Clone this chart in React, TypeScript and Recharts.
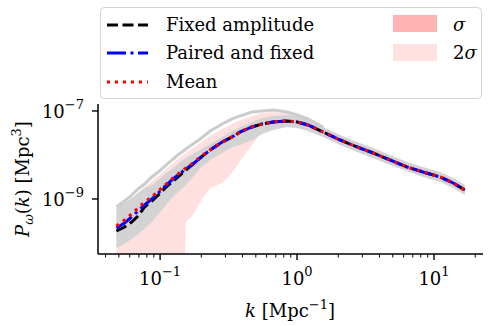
import React from "react";
import { ComposedChart, Area, Line, XAxis, YAxis } from "recharts";

// wavenumber k [1/Mpc]
const kValues = [
  0.048, 0.055, 0.062, 0.069, 0.077, 0.087, 0.097, 0.109, 0.122, 0.138, 0.151,
  0.154, 0.174, 0.196, 0.232, 0.284, 0.336, 0.384, 0.469, 0.555, 0.668, 0.845,
  1.0, 1.2, 1.55, 2.06, 2.74, 3.59, 4.77, 6.35, 8.31, 11.1, 13.8, 16.8,
];

// mean of the realisations
const meanPk = [
  2.43e-10, 3.33e-10, 4.56e-10, 6.24e-10, 8.55e-10, 1.11e-9, 1.52e-9, 2.08e-9,
  2.85e-9, 3.9e-9, 4.81e-9, 5.07e-9, 6.58e-9, 9.0e-9, 1.3e-8, 1.97e-8, 2.57e-8,
  3.33e-8, 4.33e-8, 5.07e-8, 5.62e-8, 5.93e-8, 5.62e-8, 4.81e-8, 3.33e-8,
  2.19e-8, 1.52e-8, 1.11e-8, 7.7e-9, 5.34e-9, 4.11e-9, 3.16e-9, 2.31e-9, 1.6e-9,
];

const pairedPk = [
  2.19e-10, 2.85e-10, 3.9e-10, 5.34e-10, 7.31e-10, 1.0e-9, 1.37e-9, 1.97e-9,
  2.7e-9, 3.7e-9, 4.56e-9, 4.81e-9, 6.24e-9, 8.55e-9, 1.3e-8, 1.97e-8, 2.57e-8,
  3.33e-8, 4.33e-8, 5.07e-8, 5.62e-8, 5.93e-8, 5.62e-8, 4.81e-8, 3.33e-8,
  2.19e-8, 1.52e-8, 1.11e-8, 7.7e-9, 5.34e-9, 4.11e-9, 3.16e-9, 2.31e-9, 1.6e-9,
];

const fixedPk = [
  1.87e-10, 2.31e-10, 3.0e-10, 4.11e-10, 6.58e-10, 9.0e-10, 1.23e-9, 1.78e-9,
  2.43e-9, 3.33e-9, 4.33e-9, 4.56e-9, 6.24e-9, 8.55e-9, 1.3e-8, 1.97e-8, 2.57e-8,
  3.33e-8, 4.33e-8, 5.07e-8, 5.62e-8, 5.93e-8, 5.62e-8, 4.81e-8, 3.33e-8,
  2.19e-8, 1.52e-8, 1.11e-8, 7.7e-9, 5.34e-9, 4.11e-9, 3.16e-9, 2.31e-9, 1.6e-9,
];

// envelope of the individual realisations (grey)
const grayHigh = [
  6.24e-10, 8.11e-10, 1.05e-9, 1.37e-9, 1.78e-9, 2.08e-9, 2.7e-9, 3.7e-9,
  4.81e-9, 6.58e-9, 8.11e-9, 8.55e-9, 1.05e-8, 1.3e-8, 1.78e-8, 2.57e-8, 3.51e-8,
  4.33e-8, 5.62e-8, 6.93e-8, 7.7e-8, 8.11e-8, 7.7e-8, 6.58e-8, 4.33e-8, 2.85e-8,
  1.97e-8, 1.44e-8, 1.0e-8, 6.93e-9, 5.34e-9, 4.11e-9, 3.0e-9, 2.08e-9,
];
const grayLow = [
  7.7e-11, 9.49e-11, 1.23e-10, 1.6e-10, 2.08e-10, 3.0e-10, 4.56e-10, 6.93e-10,
  1.05e-9, 1.52e-9, 1.97e-9, 2.08e-9, 3.16e-9, 5.07e-9, 7.7e-9, 1.11e-8, 1.52e-8,
  1.69e-8, 2.19e-8, 3.0e-8, 3.7e-8, 4.33e-8, 4.11e-8, 3.51e-8, 2.57e-8, 1.69e-8,
  1.17e-8, 8.55e-9, 5.93e-9, 4.33e-9, 3.16e-9, 2.43e-9, 1.78e-9, 1.23e-9,
];
// one high realisation
const outlierPk = [
  6.58e-10, 9.0e-10, 1.23e-9, 1.69e-9, 2.19e-9, 3.16e-9, 4.11e-9, 5.62e-9,
  7.7e-9, 1.05e-8, 1.3e-8, 1.37e-8, 1.78e-8, 2.31e-8, 3.51e-8, 5.07e-8, 6.58e-8,
  7.7e-8, 9.49e-8, 1.0e-7, 1.05e-7, 9.49e-8, 8.11e-8, 6.58e-8, 4.33e-8,
  null, null, null, null, null, null, null, null, null,
];

// 1 sigma and 2 sigma bands
const sigmaHigh = [
  3.0e-10, 4.11e-10, 5.62e-10, 7.7e-10, 1.05e-9, 1.37e-9, 1.87e-9, 2.57e-9,
  3.51e-9, 4.81e-9, 5.93e-9, 6.24e-9, 8.11e-9, 1.11e-8, 1.6e-8, 2.43e-8, 3.16e-8,
  4.11e-8, 5.34e-8, 6.24e-8, 6.93e-8, 7.31e-8, 6.93e-8, 5.93e-8, 4.11e-8, 2.7e-8,
  1.87e-8, 1.37e-8, 9.49e-9, 6.58e-9, 5.07e-9, 3.9e-9, 2.85e-9, 1.97e-9,
];
const sigmaLow = [
  1.6e-10, 2.19e-10, 3.0e-10, 4.11e-10, 5.62e-10, 7.31e-10, 1.0e-9, 1.37e-9,
  1.87e-9, 2.57e-9, 3.16e-9, 3.33e-9, 4.56e-9, 6.24e-9, 9.49e-9, 1.44e-8, 1.87e-8,
  2.43e-8, 3.33e-8, 3.9e-8, 4.56e-8, 4.81e-8, 4.56e-8, 3.9e-8, 2.7e-8, 1.78e-8,
  1.23e-8, 9.0e-9, 6.24e-9, 4.33e-9, 3.33e-9, 2.57e-9, 1.87e-9, 1.3e-9,
];
const sigma2High = [
  5.62e-10, 7.31e-10, 1.0e-9, 1.37e-9, 1.87e-9, 2.57e-9, 3.33e-9, 4.56e-9,
  6.24e-9, 8.55e-9, 1.05e-8, 1.11e-8, 1.44e-8, 1.87e-8, 2.7e-8, 3.9e-8, 5.07e-8,
  6.24e-8, 7.7e-8, 9.0e-8, 9.49e-8, 9.0e-8, 8.11e-8, 6.24e-8, 4.11e-8, 2.7e-8,
  1.87e-8, 1.37e-8, 9.49e-9, 6.58e-9, 5.07e-9, 3.9e-9, 2.85e-9, 1.97e-9,
];
// lower 2 sigma edge goes negative (off the log axis) below k ~ 0.15
const sigma2Low = [
  1e-11, 1e-11, 1e-11, 1e-11, 1e-11, 1e-11, 1e-11, 1e-11, 1e-11, 1e-11, 1e-11,
  3.0e-10, 4.33e-10, 8.55e-10, 1.78e-9, 2.31e-9, 3.9e-9, 7.31e-9, 1.69e-8,
  3.33e-8, 4.33e-8, 4.81e-8, 4.56e-8, 3.9e-8, 2.7e-8, 1.78e-8, 1.23e-8, 9.0e-9,
  6.24e-9, 4.33e-9, 3.33e-9, 2.57e-9, 1.87e-9, 1.3e-9,
];

const majorX = [0.1, 1, 10];
const majorXLabels = ["\u22121", "0", "1"];
const minorX = [
  0.04, 0.05, 0.06, 0.07, 0.08, 0.09, 0.2, 0.3, 0.4, 0.5, 0.6, 0.7, 0.8, 0.9, 2,
  3, 4, 5, 6, 7, 8, 9, 20,
];
const majorY = [1e-9, 1e-7];
const majorYLabels = ["\u22129", "\u22127"];

const FONT = "'DejaVu Serif', serif";

const rows = kValues.map((k, i) => ({
  k,
  mean: meanPk[i],
  paired: pairedPk[i],
  fixed: fixedPk[i],
  outlier: outlierPk[i],
  gray: [grayLow[i], grayHigh[i]],
  sigma: [sigmaLow[i], sigmaHigh[i]],
  sigma2: [sigma2Low[i], sigma2High[i]],
}));

const XTick = (props: any) => {
  const { x, y, payload } = props;
  const idx = majorX.indexOf(payload.value);
  const major = idx >= 0;
  return (
    <g>
      <line
        x1={x}
        x2={x}
        y1={y}
        y2={y + (major ? 6 : 3.5)}
        stroke="#000"
        strokeWidth={major ? 1.4 : 1}
      />
      {major && (
        <text x={x} y={y + 31} textAnchor="middle" fontFamily={FONT} fontSize={18} fill="#000">
          10
          <tspan dy={-9} fontSize={13}>
            {majorXLabels[idx]}
          </tspan>
        </text>
      )}
    </g>
  );
};

const YTick = (props: any) => {
  const { x, y, payload } = props;
  const idx = majorY.indexOf(payload.value);
  if (idx < 0) return null;
  return (
    <g>
      <line x1={x - 6} x2={x} y1={y} y2={y} stroke="#000" strokeWidth={1.4} />
      <text x={x - 14} y={y + 7} textAnchor="end" fontFamily={FONT} fontSize={18} fill="#000">
        10
        <tspan dy={-9} fontSize={13}>
          {majorYLabels[idx]}
        </tspan>
      </text>
    </g>
  );
};

const Overlay = () => (
  <svg
    width={496}
    height={326}
    style={{ position: "absolute", left: 0, top: 0, pointerEvents: "none" }}
  >
    <rect
      x={100.5}
      y={7.5}
      width={381}
      height={91}
      rx={4}
      fill="#fff"
      fillOpacity={0.8}
      stroke="#d4d4d4"
      strokeWidth={1}
    />
    <line x1={107} x2={148} y1={25} y2={25} stroke="#000" strokeWidth={3} strokeDasharray="11 4.5" />
    <line x1={107} x2={148} y1={53} y2={53} stroke="#0000ff" strokeWidth={3} strokeDasharray="19 4.5 3 4.5" />
    <line x1={107} x2={148} y1={82} y2={82} stroke="#ff0000" strokeWidth={3} strokeDasharray="3 5" />
    <g fontFamily={FONT} fontSize={18} fill="#000">
      <text x={166} y={31}>Fixed amplitude</text>
      <text x={166} y={59}>Paired and fixed</text>
      <text x={166} y={88}>Mean</text>
      <text x={453} y={31} fontStyle="italic">σ</text>
      <text x={453} y={59}>
        2<tspan fontStyle="italic">σ</tspan>
      </text>
    </g>
    <rect x={393} y={15} width={44} height={17} fill="#ffb3b3" />
    <rect x={393} y={44} width={44} height={17} fill="#ffe1e1" />

    <text x={290} y={317} textAnchor="middle" fontFamily={FONT} fontSize={18} fill="#000">
      <tspan fontStyle="italic">k</tspan> [Mpc
      <tspan dy={-8} fontSize={13}>
        {"\u22121"}
      </tspan>
      <tspan dy={8}>]</tspan>
    </text>
    <text
      x={0}
      y={0}
      transform="translate(29,179) rotate(-90)"
      textAnchor="middle"
      fontFamily={FONT}
      fontSize={18}
      fill="#000"
    >
      <tspan fontStyle="italic">P</tspan>
      <tspan dy={4} fontSize={13} fontStyle="italic">
        ω
      </tspan>
      <tspan dy={-4}>(</tspan>
      <tspan fontStyle="italic">k</tspan>) [Mpc
      <tspan dy={-8} fontSize={13}>
        3
      </tspan>
      <tspan dy={8}>]</tspan>
    </text>
  </svg>
);

export default function App() {
  return (
    <div style={{ position: "absolute", left: 0, top: 0, width: 496, height: 326, background: "#fff" }}>
      <ComposedChart
        width={496}
        height={326}
        data={rows}
        margin={{ top: 104, right: 13, bottom: 0, left: 0 }}
      >
        <XAxis
          dataKey="k"
          type="number"
          scale="log"
          domain={[0.0352, 22.8]}
          allowDataOverflow
          ticks={[...minorX, ...majorX].sort((a, b) => a - b)}
          interval={0}
          tick={<XTick />}
          tickSize={0}
          tickMargin={0}
          tickLine={false}
          axisLine={{ stroke: "#000", strokeWidth: 1.5 }}
          height={72}
        />
        <XAxis
          xAxisId="top"
          dataKey="k"
          type="number"
          scale="log"
          orientation="top"
          domain={[0.0352, 22.8]}
          allowDataOverflow
          tick={false}
          tickLine={false}
          axisLine={{ stroke: "#000", strokeWidth: 1.5 }}
          height={0}
        />
        <YAxis
          type="number"
          scale="log"
          domain={[5.62e-11, 1.44e-7]}
          allowDataOverflow
          ticks={majorY}
          interval={0}
          tick={<YTick />}
          tickSize={0}
          tickMargin={0}
          tickLine={false}
          axisLine={{ stroke: "#000", strokeWidth: 1.5 }}
          width={98}
        />
        <YAxis
          yAxisId="right"
          orientation="right"
          type="number"
          scale="log"
          domain={[5.62e-11, 1.44e-7]}
          allowDataOverflow
          tick={false}
          tickLine={false}
          axisLine={{ stroke: "#000", strokeWidth: 1.5 }}
          width={0}
        />
        <Area
          dataKey="sigma2"
          type="linear"
          fill="#ffe0e0"
          fillOpacity={1}
          stroke="none"
          isAnimationActive={false}
        />
        <Area
          dataKey="sigma"
          type="linear"
          fill="#ffb3b3"
          fillOpacity={1}
          stroke="none"
          isAnimationActive={false}
        />
        <Line
          dataKey="outlier"
          type="linear"
          stroke="#cccccc"
          strokeWidth={3}
          dot={false}
          isAnimationActive={false}
        />
        <Area
          dataKey="gray"
          type="linear"
          fill="#d3d3d3"
          fillOpacity={1}
          stroke="none"
          isAnimationActive={false}
        />
        <Line
          dataKey="fixed"
          type="linear"
          stroke="#000"
          strokeWidth={3}
          strokeDasharray="11 4.5"
          dot={false}
          isAnimationActive={false}
        />
        <Line
          dataKey="paired"
          type="linear"
          stroke="#0000ff"
          strokeWidth={3}
          strokeDasharray="19 4.5 3 4.5"
          dot={false}
          isAnimationActive={false}
        />
        <Line
          dataKey="mean"
          type="linear"
          stroke="#ff0000"
          strokeWidth={3}
          strokeDasharray="3 5"
          dot={false}
          isAnimationActive={false}
        />
      </ComposedChart>
      <Overlay />
    </div>
  );
}
